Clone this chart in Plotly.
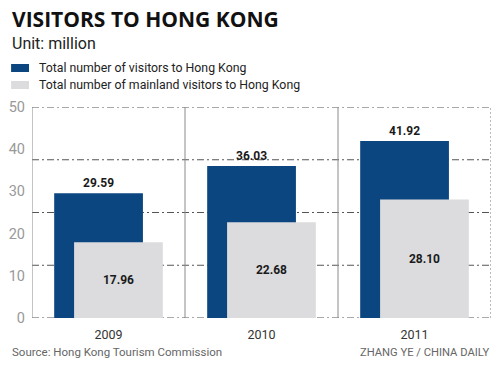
import plotly.graph_objects as go

years = ["2009", "2010", "2011"]
total_visitors = [29.59, 36.03, 41.92]
mainland_visitors = [17.96, 22.68, 28.10]
total_labels = ["29.59", "36.03", "41.92"]
mainland_labels = ["17.96", "22.68", "28.10"]
series_names = ["Total number of visitors to Hong Kong",
                "Total number of mainland visitors to Hong Kong"]
y_ticks = [0, 10, 20, 30, 40, 50]

NAVY = "#0b4680"
LIGHT = "#dcdcde"
FONT = "Roboto"

xs = list(range(len(years)))
bw = 0.58
shift = 0.065

fig = go.Figure()
fig.add_trace(go.Bar(
    x=xs, y=total_visitors, name=series_names[0],
    marker=dict(color=NAVY, line=dict(width=0)),
    width=bw, offset=-bw / 2 - shift,
    text=total_labels, textposition="outside", cliponaxis=False,
    textfont=dict(family=FONT, size=12, color="#1a1a1a", weight="bold"),
    showlegend=False, hoverinfo="skip",
))
fig.add_trace(go.Bar(
    x=xs, y=mainland_visitors, name=series_names[1],
    marker=dict(color=LIGHT, line=dict(width=0)),
    width=bw, offset=-bw / 2 + shift,
    text=mainland_labels, textposition="inside", insidetextanchor="middle",
    textfont=dict(family=FONT, size=12, color="#1a1a1a", weight="bold"),
    showlegend=False, hoverinfo="skip",
))

shapes = []
# dash-dot horizontal grid lines
for g in [0, 12.5, 25, 37.5, 50]:
    shapes.append(dict(type="line", xref="x", yref="y", x0=-0.5, x1=2.5, y0=g, y1=g,
                       line=dict(color="#555555", width=1, dash="7px,3px,2px,3px"),
                       layer="below"))
# vertical separators
for vx in [-0.5, 0.5, 1.5]:
    shapes.append(dict(type="line", xref="x", yref="y", x0=vx, x1=vx, y0=0, y1=50,
                       line=dict(color="#8a8a8a", width=1), layer="below"))
shapes.append(dict(type="line", xref="x", yref="y", x0=2.5, x1=2.5, y0=0, y1=50,
                   line=dict(color="#777777", width=1, dash="2px,2px"), layer="below"))

# legend swatches (pixel positions converted to paper coords)
W, H = 500, 368
ml, mr, mt, mb = 30, 9, 107, 50
pw, ph = W - ml - mr, H - mt - mb
def px(x):
    return (x - ml) / pw
def py(y):
    return (H - mb - y) / ph

for i, col in enumerate([NAVY, LIGHT]):
    top = 64 + i * 17
    shapes.append(dict(type="rect", xref="paper", yref="paper",
                       x0=px(9), x1=px(27), y0=py(top + 8), y1=py(top),
                       fillcolor=col, line=dict(width=0)))

annotations = [
    dict(text="<b>VISITORS TO HONG KONG</b>", xref="paper", yref="paper",
         x=px(8), y=py(3), xanchor="left", yanchor="top", showarrow=False,
         font=dict(family="Open Sans", size=21, color="#111111", weight=800)),
    dict(text="Unit: million", xref="paper", yref="paper",
         x=px(8), y=py(32), xanchor="left", yanchor="top", showarrow=False,
         font=dict(family=FONT, size=16, color="#222222")),
    dict(text="Source: Hong Kong Tourism Commission", xref="paper", yref="paper",
         x=px(8), y=py(352), xanchor="left", yanchor="middle", showarrow=False,
         font=dict(family=FONT, size=11.5, color="#666666")),
    dict(text="ZHANG YE / CHINA DAILY", xref="paper", yref="paper",
         x=px(491), y=py(352), xanchor="right", yanchor="middle", showarrow=False,
         font=dict(family=FONT, size=11.2, color="#666666")),
]
for i, name in enumerate(series_names):
    annotations.append(dict(text=name, xref="paper", yref="paper",
                            x=px(35), y=py(68 + i * 17), xanchor="left", yanchor="middle",
                            showarrow=False,
                            font=dict(family=FONT, size=12.3, color="#222222")))

fig.update_layout(
    width=W, height=H,
    margin=dict(l=ml, r=mr, t=mt, b=mb, pad=0),
    paper_bgcolor="white", plot_bgcolor="white",
    barmode="overlay",
    shapes=shapes, annotations=annotations,
    xaxis=dict(range=[-0.5, 2.5], tickvals=xs, ticktext=years, showgrid=False,
               zeroline=False, showline=False, ticks="", ticklabelstandoff=7,
               tickfont=dict(family=FONT, size=12.5, color="#333333")),
    yaxis=dict(range=[0, 50], tickvals=y_ticks, showgrid=False, zeroline=False,
               showline=False, ticks="", ticklabelstandoff=6,
               tickfont=dict(family=FONT, size=14.5, color="#999999")),
    showlegend=False,
    hovermode=False,
)

fig.write_html("out.html", config={"displayModeBar": False},
               post_script="document.body.style.margin='0';document.body.style.overflow='hidden';")
